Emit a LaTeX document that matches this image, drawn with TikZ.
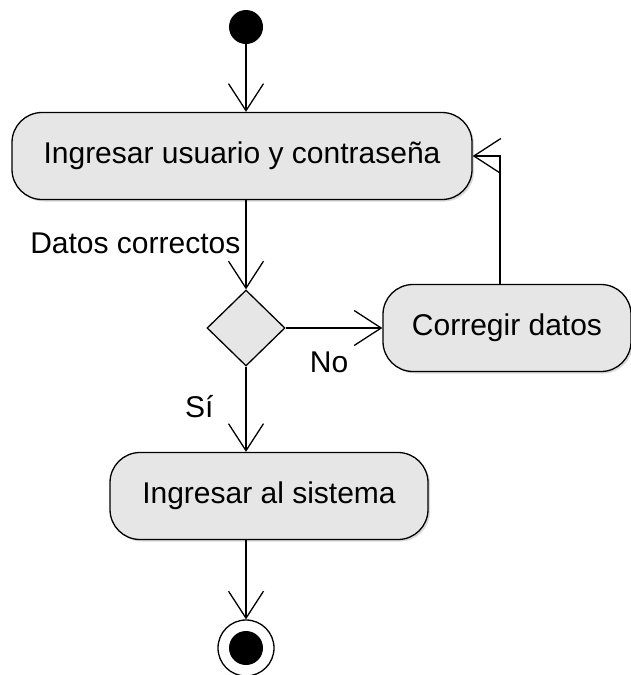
\documentclass[tikz,border=0pt]{standalone}
\usepackage{fontspec}
\setmainfont{Liberation Sans}
\usetikzlibrary{shapes.geometric, arrows.meta, shadows}
\definecolor{actgray}{RGB}{230,230,230}

\begin{document}
\begin{tikzpicture}[
        x=1pt, y=-1pt,
        every node/.style = {
            font=\fontsize{30}{36}\selectfont,
            inner sep=0pt
        },
        activity/.style = {
            draw, fill=actgray, rectangle,
            rounded corners=30pt,
            line width=1.3pt,
            minimum height=87pt,
            drop shadow={shadow xshift=2pt, shadow yshift=-2pt, opacity=0.3}
        },
        decisionbox/.style = {
            draw, fill=actgray, diamond,
            line width=1.3pt,
            minimum width=78pt, minimum height=76pt
        },
        initstate/.style = {circle, fill=black, minimum size=34pt},
        endstate/.style = {circle, draw, fill=white, line width=1.3pt, minimum size=56pt},
        flow/.style = {
            line width=1.3pt,
            -{Straight Barb[length=27pt, width=35pt]}
        }]
        \useasboundingbox (0,0) rectangle (630,675);

        % nodes
        \node[initstate] (inicio) at (246,27) {};
        \node[activity, minimum width=460pt] (usuario) at (242,156) {Ingresar usuario y contraseña};
        \node[decisionbox] (decision) at (246,328) {};
        \node[activity, minimum width=248pt] (corregir) at (507,328) {Corregir datos};
        \node[activity, minimum width=318pt] (sistema) at (269,496) {Ingresar al sistema};
        \node[endstate] (fin) at (246,648) {};
        \fill (fin.center) circle (17pt);

        % connectors
        \draw[flow] (inicio) -- (inicio |- usuario.north);
        \draw[flow] (usuario.south -| decision) -- (decision.north)
            node[pos=0.6, anchor=base east, xshift=-5pt] {Datos correctos};
        \draw[flow] (decision.east) -- (corregir.west)
            node[pos=0.45, yshift=-34pt] {No};
        \draw[flow] ([xshift=-7pt]corregir.north) |- (usuario.east);
        \draw[flow] (decision.south) -- (decision |- sistema.north)
            node[pos=0.6, anchor=base east, xshift=-32pt] {Sí};
        \draw[flow] (sistema.south -| fin) -- (fin.north);
\end{tikzpicture}
\end{document}
